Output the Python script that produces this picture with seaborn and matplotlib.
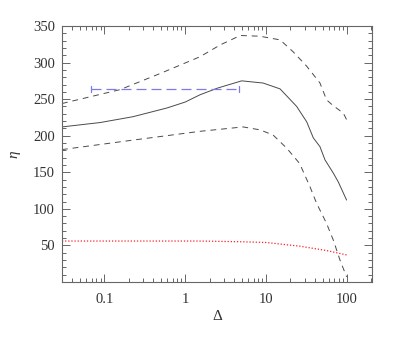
import matplotlib
matplotlib.use("Agg")
import matplotlib.pyplot as plt
import seaborn as sns
import numpy as np
import pandas as pd
from matplotlib.ticker import FixedLocator, MultipleLocator, LogLocator, NullFormatter

# ---- data ----
mid_x = [0.03, 0.089, 0.227, 0.60, 1.0, 1.53, 2.5, 5.0, 9.2, 14.9, 23.9, 31.8, 38.4, 46.4, 53.5, 67.7, 78, 99]
mid_y = [212, 218, 226, 238, 246, 256, 265, 275, 272, 264, 240, 219, 197, 185, 167, 149, 137, 112]

up_x = [0.03, 0.157, 0.49, 1.53, 2.7, 4.8, 8.4, 14.9, 21.5, 31.8, 46.4, 56, 67.7, 90, 99]
up_y = [244, 263, 285, 308, 324, 337, 336, 331, 315, 295, 272, 249, 241, 231, 222]

lo_x = [0.03, 0.227, 1.53, 5.2, 8.4, 12.2, 18, 26, 35, 42, 56, 68, 82, 99]
lo_y = [181, 194, 206, 212, 208, 201, 183, 162, 130, 108, 80, 57, 30, 7]

red_x = [0.03, 0.3, 1.5, 5, 10, 26, 56, 99]
red_y = [56, 56, 56, 55, 54, 49, 43, 37]

bar_lo, bar_hi, bar_y = 0.069, 4.6, 264

xticks = [0.1, 1, 10, 100]
xticklabels = ["0.1", "1", "10", "100"]
yticks = [50, 100, 150, 200, 250, 300, 350]

# ---- plot ----
sns.set_style("ticks")
plt.rcParams["font.family"] = ["Liberation Serif", "DejaVu Serif"]

fig = plt.figure(figsize=(4.05, 3.54), dpi=100)
ax = fig.add_axes([0.153, 0.2034, 0.7655, 0.7232])

lc = "#4a4a4a"
sns.lineplot(x=mid_x, y=mid_y, ax=ax, color=lc, lw=0.7, estimator=None, sort=False)
sns.lineplot(x=up_x, y=up_y, ax=ax, color=lc, lw=0.7, estimator=None, sort=False)
sns.lineplot(x=lo_x, y=lo_y, ax=ax, color=lc, lw=0.7, estimator=None, sort=False)
sns.lineplot(x=red_x, y=red_y, ax=ax, color="#ff2020", lw=0.9, estimator=None, sort=False)
lines = ax.get_lines()
lines[1].set_linestyle((0, (6, 5)))
lines[2].set_linestyle((0, (6, 5)))
lines[3].set_linestyle((0, (1, 1.5)))

ax.plot([bar_lo, bar_hi], [bar_y, bar_y], color="#7b7bea", lw=0.9, ls=(0, (8, 4)))
ax.plot([bar_lo, bar_lo], [bar_y - 4, bar_y + 4], color="#7b7bea", lw=0.9)
ax.plot([bar_hi, bar_hi], [bar_y - 4, bar_y + 4], color="#7b7bea", lw=0.9)

ax.set_xscale("log")
ax.set_xlim(0.03, 204)
ax.set_ylim(0, 350)
ax.xaxis.set_major_locator(FixedLocator(xticks))
ax.set_xticklabels(xticklabels)
ax.xaxis.set_minor_locator(LogLocator(base=10, subs=np.arange(2, 10)))
ax.xaxis.set_minor_formatter(NullFormatter())
ax.yaxis.set_major_locator(FixedLocator(yticks))
ax.yaxis.set_minor_locator(MultipleLocator(10))

gc = "#666666"
for s in ax.spines.values():
    s.set_color(gc)
    s.set_linewidth(0.8)
ax.tick_params(which="both", direction="in", top=True, right=True, color=gc, width=0.7)
ax.tick_params(which="major", length=6, labelsize=10.5, labelcolor="#333333")
ax.tick_params(which="minor", length=3)
ax.tick_params(axis="x", which="major", pad=8)
ax.tick_params(axis="y", which="major", pad=5)

ax.set_xlabel("Δ", fontsize=11, color="#333333", labelpad=3)
ax.set_ylabel("η", fontsize=11, color="#333333", labelpad=9, fontstyle="italic")

fig.savefig("out.png", dpi=100)
